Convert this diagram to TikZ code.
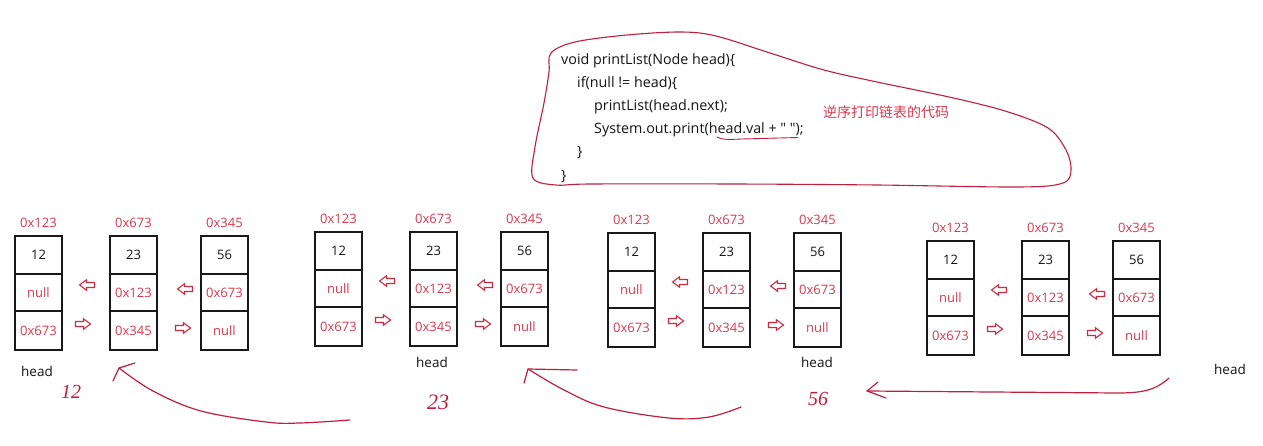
\documentclass[tikz,border=0pt]{standalone}
\usepackage{fontspec}
\setmainfont{Open Sans}
\newfontfamily\cjk{Noto Sans CJK SC}
\newfontfamily\handf{Liberation Serif}
\definecolor{lred}{RGB}{214,58,78}
\definecolor{hred}{RGB}{188,32,62}
\definecolor{ared}{RGB}{205,45,65}
\definecolor{boxc}{RGB}{25,25,25}
\definecolor{txt}{RGB}{20,20,20}
\tikzset{
  cell/.style={draw=boxc, line width=1.5pt, inner sep=0pt, minimum width=47pt,
    font=\fontsize{13}{15}\selectfont},
  lbl/.style={text=lred, inner sep=0pt, font=\fontsize{13}{15}\selectfont},
  headt/.style={text=txt, inner sep=0pt, font=\fontsize{13.5}{15}\selectfont},
  codet/.style={anchor=west, inner sep=0pt, text=txt, font=\fontsize{14.3}{16}\selectfont},
  hand/.style={draw=hred, line width=1.2pt, line cap=round, line join=round},
  handtxt/.style={text=hred, inner sep=0pt, font=\handf\itshape\fontsize{20}{22}\selectfont},
  arr/.style={draw=ared, line width=1.1pt, fill=white, line join=miter},
  rarr/.pic={\draw[arr] (-7.5,-2.5)--(0.5,-2.5)--(0.5,-5.2)--(7.5,0)--(0.5,5.2)--(0.5,2.5)--(-7.5,2.5)--cycle;},
  larr/.pic={\draw[arr] (7.5,-2.5)--(-0.5,-2.5)--(-0.5,-5.2)--(-7.5,0)--(-0.5,5.2)--(-0.5,2.5)--(7.5,2.5)--cycle;}
}
\newcommand\llgroup[3]{%
\begin{scope}[shift={(#2,#3)}]
  \foreach \ox/\b/\v/\p/\q/\lab in {0/a/12/null/0x673/0x123, 95/b/23/0x123/0x345/0x673, 186/c/56/0x673/null/0x345}{
    \node[cell, minimum height=38pt, text=txt] (#1\b1) at (\ox+23.5,19) {\v};
    \node[cell, minimum height=37pt, text=lred] (#1\b2) at (\ox+23.5,56.5) {\p};
    \node[cell, minimum height=39pt, text=lred] (#1\b3) at (\ox+23.5,94.5) {\q};
    \node[lbl] (#1\b l) at (\ox+23.5,-13.5) {\lab};
  }
  \pic (#1la) at (72,49) {larr};
  \pic (#1ra) at (68,88) {rarr};
  \pic (#1lb) at (170,53) {larr};
  \pic (#1rb) at (168,92) {rarr};
\end{scope}}
\begin{document}
\begin{tikzpicture}[x=1pt,y=-1pt]
\useasboundingbox (0,0) rectangle (1263,446);
\fill[white] (0,0) rectangle (1263,446);

% code block
\node[codet] (l1) at (561,61) {void printList(Node head)\{};
\node[codet] (l2) at (577,83.5) {if(null != head)\{};
\node[codet] (l3) at (594,107) {printList(head.next);};
\node[codet] (l4) at (594,130) {System.out.print(head.val + \textquotedbl\ \textquotedbl);};
\node[codet] (l5) at (577,153) {\}};
\node[codet] (l6) at (561,177) {\}};
\node[anchor=west, inner sep=0pt, text=lred, font=\cjk\fontsize{14}{16}\selectfont] (note) at (823,112) {逆序打印链表的代码};
\draw[hand, line width=0.9pt] (717,137) .. controls (722,140) and (730,139.5) .. (742,139) -- (798,137.5);
\draw[hand, line width=1.1pt] plot[smooth cycle, tension=0.55] coordinates {
 (551,53) (575,42) (627,35) (681,32) (716,36) (770,53) (824,70) (877,82) (949,97)
 (1005,111) (1048,128) (1066,150) (1071,170) (1063,183) (1020,187) (877,185)
 (734,184) (591,184) (556,185) (533,178) (535,147) (544,103) (549,72)};

% linked lists
\llgroup{g1}{15}{236}
\llgroup{g2}{315}{232}
\llgroup{g3}{608}{233}
\llgroup{g4}{927}{241}

\node[headt] (h1) at (37,371) {head};
\node[headt] (h2) at (432,362) {head};
\node[headt] (h3) at (817,362) {head};
\node[headt] (h4) at (1230,369) {head};

% handwritten values and return arrows
\node[handtxt] (n12) at (71,392) {12};
\node[handtxt, font=\handf\itshape\fontsize{22}{24}\selectfont] (n23) at (438,402) {23};
\node[handtxt] (n56) at (818,399) {56};

\coordinate (c1s) at (350,420);
\coordinate (c1t) at (119,368);
\draw[hand] plot[smooth, tension=0.6] coordinates {(c1s) (300,423) (266,422) (201,411) (153,391) (c1t)};
\draw[hand] (113,381) -- (c1t) -- (135,363);

\coordinate (c2s) at (741,407);
\coordinate (c2t) at (528,369);
\draw[hand] plot[smooth, tension=0.6] coordinates {(c2s) (709,417) (669,418) (604,407) (564,390) (c2t)};
\draw[hand] (524,383) -- (c2t) -- (577,370);

\coordinate (c3s) at (1169,378);
\coordinate (c3t) at (867,391);
\draw[hand] (c3s) .. controls (1155,391) and (1140,393) .. (1117,393) -- (c3t);
\draw[hand] (878,382) -- (c3t) -- (886,398);
\end{tikzpicture}
\end{document}
